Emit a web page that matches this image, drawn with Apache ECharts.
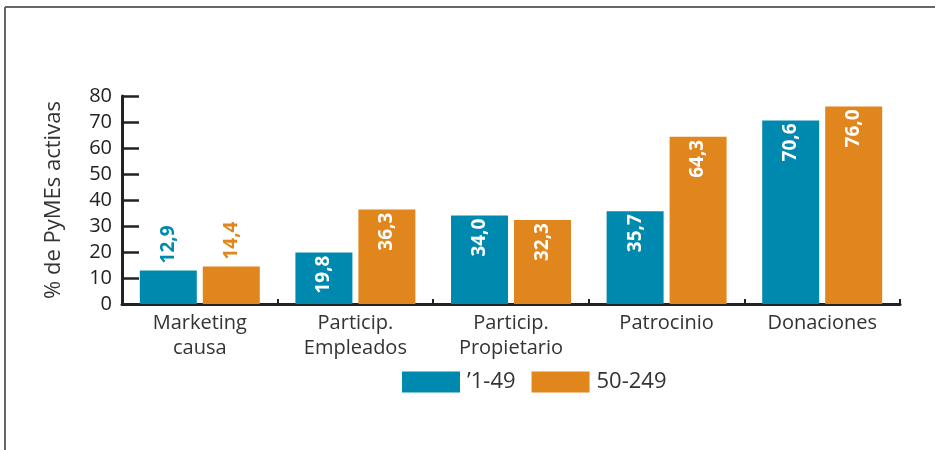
<!DOCTYPE html>
<html>
<head>
<meta charset="utf-8">
<script src="https://cdn.jsdelivr.net/npm/echarts@6/dist/echarts.min.js"></script>
<style>
  html, body { margin: 0; padding: 0; background: #fff; }
  #chart { width: 935px; height: 450px; }
</style>
</head>
<body>
<div id="chart"></div>
<script>
// datos
const categories = ['Marketing\ncausa', 'Particip.\nEmpleados', 'Particip.\nPropietario', 'Patrocinio', 'Donaciones'];
const small = [12.9, 19.8, 34.0, 35.7, 70.6];   // '1-49
const medium = [14.4, 36.3, 32.3, 64.3, 76.0];  // 50-249
const yTicks = [0, 80, 10];

const blue = '#0089AF';
const orange = '#E0861D';
const font = 'Open Sans';

// etiqueta fuera de la barra si es corta
function items(values, color) {
  return values.map(function (v) {
    let outside = v < 15;
    return {
      value: v,
      label: outside ? {
        position: 'top', align: 'left', color: color, distance: 7
      } : {
        position: 'insideTop', align: 'right', color: '#fff', distance: 3
      }
    };
  });
}

const chart = echarts.init(document.getElementById('chart'));
const labelBase = {
  show: true,
  rotate: 90,
  verticalAlign: 'middle',
  fontFamily: font,
  fontSize: 19,
  fontWeight: 'bold',
  formatter: function (p) { return p.value.toFixed(1).replace('.', ','); }
};

let option = {
  animation: false,
  textStyle: { fontFamily: font },
  graphic: [
    { type: 'line', shape: { x1: 5, y1: 7, x2: 935, y2: 7 }, style: { stroke: '#666', lineWidth: 2 } },
    { type: 'line', shape: { x1: 5, y1: 7, x2: 5, y2: 450 }, style: { stroke: '#666', lineWidth: 2 } }
  ],
  grid: { left: 122, right: 35, top: 96, bottom: 146 },
  legend: {
    left: 402, top: 371, padding: 0,
    itemWidth: 58, itemHeight: 21, itemGap: 16,
    icon: 'rect',
    textStyle: { fontFamily: font, fontSize: 22, color: '#333', padding: [0, 0, 0, 2] },
    data: ['\u20191-49', '50-249']
  },
  xAxis: {
    type: 'category',
    data: categories,
    axisLine: { lineStyle: { color: '#222', width: 3 } },
    axisTick: { show: true, inside: true, length: 5, lineStyle: { color: '#222', width: 2 } },
    axisLabel: { interval: 0, fontFamily: font, fontSize: 20, lineHeight: 25, color: '#333', margin: 7 }
  },
  yAxis: {
    type: 'value',
    min: yTicks[0], max: yTicks[1], interval: yTicks[2],
    name: '% de PyMEs activas',
    nameLocation: 'middle',
    nameGap: 57,
    nameTextStyle: { fontFamily: font, fontSize: 22, color: '#333' },
    axisLine: { show: true, lineStyle: { color: '#222', width: 3 } },
    axisTick: { show: true, inside: true, length: 17, lineStyle: { color: '#222', width: 2.5 } },
    splitLine: { show: false },
    axisLabel: { fontFamily: font, fontSize: 20, color: '#222', margin: 10 }
  },
  series: [
    {
      name: '\u20191-49', type: 'bar', data: items(small, blue),
      barWidth: 57, barGap: '10.5%',
      itemStyle: { color: blue },
      label: labelBase
    },
    {
      name: '50-249', type: 'bar', data: items(medium, orange),
      barWidth: 57,
      itemStyle: { color: orange },
      label: labelBase
    }
  ]
};

option && chart.setOption(option);
</script>
</body>
</html>
